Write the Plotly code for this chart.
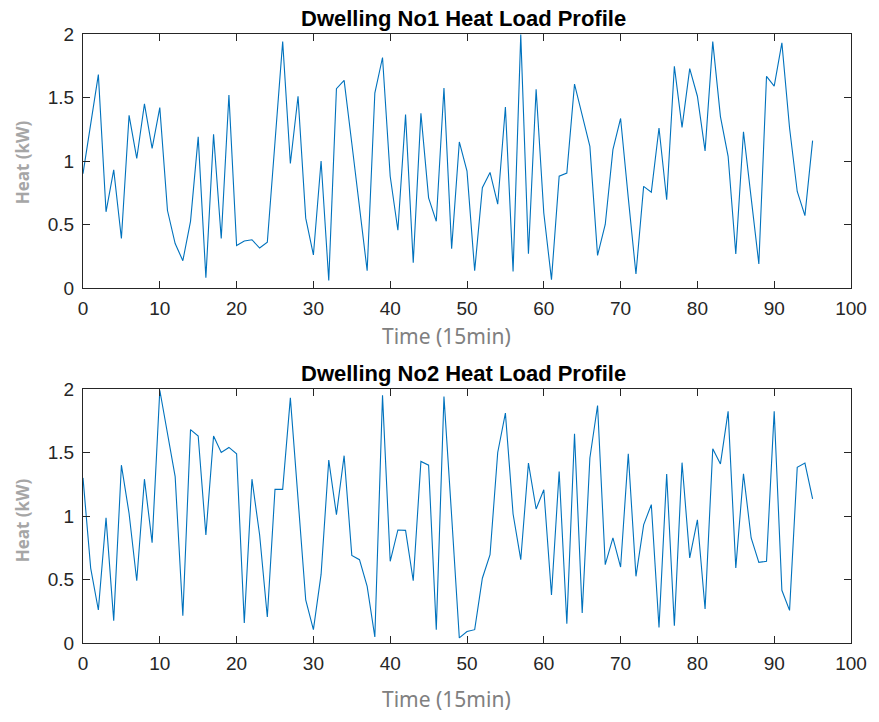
import plotly.graph_objects as go

time_steps = list(range(96))

heat_dwelling_1 = [
    0.90, 1.31, 1.68, 0.60, 0.93, 0.39, 1.36, 1.02, 1.45, 1.10,
    1.42, 0.61, 0.35, 0.215, 0.525, 1.19, 0.08, 1.21, 0.39, 1.52,
    0.335, 0.37, 0.38, 0.315, 0.36, 1.15, 1.94, 0.98, 1.51, 0.55,
    0.26, 1.00, 0.06, 1.57, 1.635, 1.14, 0.635, 0.136, 1.535, 1.815,
    0.88, 0.455, 1.365, 0.20, 1.375, 0.71, 0.525, 1.575, 0.31, 1.15,
    0.92, 0.136, 0.79, 0.91, 0.66, 1.425, 0.13, 1.995, 0.27, 1.565,
    0.59, 0.066, 0.88, 0.905, 1.605, 1.36, 1.115, 0.257, 0.50, 1.09,
    1.335, 0.71, 0.11, 0.80, 0.755, 1.26, 0.695, 1.745, 1.265, 1.727,
    1.51, 1.08, 1.94, 1.35, 1.037, 0.268, 1.23, 0.71, 0.19, 1.667,
    1.59, 1.93, 1.26, 0.76, 0.57, 1.16,
]

heat_dwelling_2 = [
    1.30, 0.59, 0.26, 0.985, 0.176, 1.40, 1.02, 0.49, 1.29, 0.79,
    1.99, 1.65, 1.31, 0.215, 1.68, 1.63, 0.85, 1.63, 1.50, 1.54,
    1.49, 0.157, 1.29, 0.85, 0.205, 1.21, 1.21, 1.93, 1.13, 0.34,
    0.105, 0.54, 1.44, 1.01, 1.475, 0.69, 0.656, 0.446, 0.047, 1.95,
    0.643, 0.89, 0.887, 0.49, 1.43, 1.40, 0.105, 1.94, 1.00, 0.04,
    0.09, 0.105, 0.51, 0.695, 1.50, 1.81, 1.016, 0.656, 1.417, 1.055,
    1.207, 0.378, 1.35, 0.152, 1.648, 0.236, 1.457, 1.87, 0.617, 0.827,
    0.598, 1.49, 0.525, 0.93, 1.09, 0.123, 1.33, 0.136, 1.42, 0.67,
    0.97, 0.268, 1.53, 1.41, 1.824, 0.59, 1.333, 0.827, 0.635, 0.643,
    1.824, 0.415, 0.257, 1.383, 1.417, 1.134,
]

titles = ["Dwelling No1 Heat Load Profile", "Dwelling No2 Heat Load Profile"]
x_label = "Time (15min)"
y_label = "Heat (kW)"

W, H = 879, 722
ML, MR, MT, MB = 83, 24, 34, 79
PH = H - MT - MB  # 609


def py(p):
    """pixel y -> paper fraction"""
    return (H - MB - p) / PH


def px(p):
    return (p - ML) / (W - ML - MR)


fig = go.Figure()
fig.add_trace(go.Scatter(x=time_steps, y=heat_dwelling_1, mode="lines",
                         line=dict(color="#0072BD", width=1.1), xaxis="x", yaxis="y",
                         showlegend=False))
fig.add_trace(go.Scatter(x=time_steps, y=heat_dwelling_2, mode="lines",
                         line=dict(color="#0072BD", width=1.1), xaxis="x2", yaxis="y2",
                         showlegend=False))

tickfont = dict(family="Liberation Sans, Arial, sans-serif", size=19, color="#262626")
axis_common = dict(showline=True, mirror="ticks", linecolor="#262626", linewidth=1,
                   ticks="inside", ticklen=7, tickcolor="#262626", showgrid=False,
                   zeroline=False, tickfont=tickfont)

fig.update_layout(
    width=W, height=H,
    margin=dict(l=ML, r=MR, t=MT, b=MB),
    paper_bgcolor="white", plot_bgcolor="white",
    xaxis=dict(domain=[0, 1], range=[0, 100], dtick=10, anchor="y", ticklabelstandoff=3, **axis_common),
    yaxis=dict(domain=[py(288), 1], range=[0, 2], dtick=0.5, anchor="x", ticklabelstandoff=4, **axis_common),
    xaxis2=dict(domain=[0, 1], range=[0, 100], dtick=10, anchor="y2", ticklabelstandoff=3, **axis_common),
    yaxis2=dict(domain=[0, py(389)], range=[0, 2], dtick=0.5, anchor="x2", ticklabelstandoff=4, **axis_common),
)

annotations = []
for title, ty in zip(titles, [18, 373]):
    annotations.append(dict(text="<b>" + title + "</b>", x=px(465), y=py(ty), xref="paper", yref="paper",
                            xanchor="center", yanchor="middle", showarrow=False,
                            font=dict(family="Liberation Sans, Arial, sans-serif", size=22, color="#000000")))
for ly in [336, 699]:
    annotations.append(dict(text=x_label, x=px(448), y=py(ly), xref="paper", yref="paper",
                            xanchor="center", yanchor="middle", showarrow=False,
                            font=dict(family="Noto Sans, sans-serif", size=21, color="#808080")))
for ly in [162, 520]:
    annotations.append(dict(text="<b>" + y_label + "</b>", x=px(22), y=py(ly), xref="paper", yref="paper",
                            xanchor="center", yanchor="middle", showarrow=False, textangle=-90,
                            font=dict(family="Noto Sans, sans-serif", size=17, color="#a6a6a6")))
fig.update_layout(annotations=annotations)

fig.write_html("out.html")
